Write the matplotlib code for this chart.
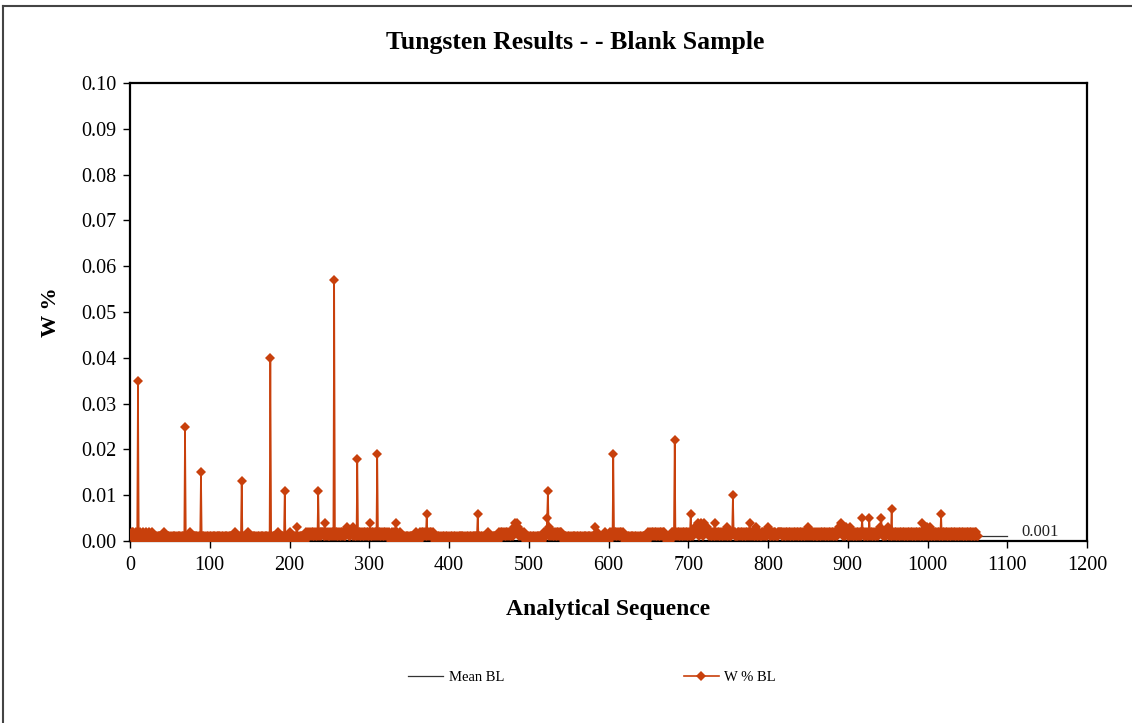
import numpy as np
import matplotlib.pyplot as plt
from matplotlib.lines import Line2D

plt.rcParams['font.family'] = ['Liberation Serif', 'DejaVu Serif']

# Blank sample W % readings, one digit per run in units of 0.001 %
# (rows of 50 runs, blocks of 10)
blank_rows = [
    "1212102111 1021120112 0112102110 1010110101 1021010110",
    "0101101010 1101011011 1010210101 1011010110 1101010101",
    "0101101011 0110101010 1101011010 1211010101 1011010210",
    "1010110101 0101101010 1101011011 0110121010 1101011010",
    "2101010131 1011010110 2121121212 1212121212 2214121211",
    "2121211212 1212121211 2321212213 2121212121 2121212121",
    "4121212121 1212121212 1211210121 2141210121 1101011010",
    "1101010121 1012121212 1612121212 1101010101 0101010101",
    "0101010101 0101110101 0101010101 1101161101 0101101121",
    "1010110101 0121212121 2121212121 2343432121 1212101010",
    "1010101010 1101010121 2152312121 2121212121 2110101010",
    "1010101101 0101010101 1010110101 0131210101 1010121010",
    "1212121212 1212121211 0101010101 1010101010 1010101012",
    "1212121212 1212121212 1101010121 2131212121 2121212121",
    "2161212323 2421242124 2323212121 2141212121 2121212131",
    "2121212121 1212121212 1212124121 2121312121 1212121213",
    "2121212121 1212221212 1212121212 1212121212 1212121213",
    "2121212121 1212121212 1212121212 1212121232 3431212321",
    "2131212121 2121212521 2121215121 2121212123 2521212123",
    "2121712121 2121212121 2121212121 2121212121 2141212131",
    "2131212121 2121216121 2121212121 2121212121 2121212121",
    "2121212121 211",
]

# High readings (run number, W %)
spike_seq = [10, 69, 89, 140, 176, 194, 236, 256, 285, 310, 524, 606, 683, 756]
spike_w = [0.035, 0.025, 0.015, 0.013, 0.040, 0.011, 0.011, 0.057, 0.018,
           0.019, 0.011, 0.019, 0.022, 0.010]

# Mean of the blank results
mean_seq = [1, 1100]
mean_bl = 0.001

digits = "".join(blank_rows).replace(" ", "")
w_bl = np.array([int(c) for c in digits]) * 0.001
seq = np.arange(1, len(w_bl) + 1)
for s, v in zip(spike_seq, spike_w):
    w_bl[s - 1] = v

orange = '#C8400C'

fig = plt.figure(figsize=(11.32, 7.23), dpi=100)
ax = fig.add_axes([130 / 1132, 1 - 541 / 723, 957 / 1132, 458 / 723])

ax.plot(mean_seq, [mean_bl, mean_bl], color='#333333', lw=0.9, label='Mean BL', zorder=2)
ax.plot(seq, w_bl, color=orange, lw=1.2, marker='D', markersize=5.5,
        markeredgewidth=0, label='W % BL', zorder=3)
ax.annotate(f"{mean_bl:.3f}", xy=(mean_seq[-1], mean_bl), xytext=(10, 3),
            textcoords='offset points', va='center', ha='left', fontsize=12,
            color='#222222')

ax.set_xlim(0, 1200)
ax.set_ylim(0, 0.10)
ax.set_xticks(np.arange(0, 1201, 100))
ax.set_yticks(np.arange(0, 0.1001, 0.01))
ax.yaxis.set_major_formatter(plt.FormatStrFormatter('%.2f'))
ax.tick_params(direction='out', length=5, width=1, labelsize=14.5)
ax.tick_params(axis='y', pad=5)
ax.tick_params(axis='x', pad=6)
for sp in ax.spines.values():
    sp.set_linewidth(1.6)
ax.set_xlabel('Analytical Sequence', fontsize=17, fontweight='bold', labelpad=17)
ax.set_ylabel('W %', fontsize=16, fontweight='bold', labelpad=14)

fig.text(575 / 1132, 1 - 43 / 723, 'Tungsten Results - - Blank Sample',
         ha='center', va='center', fontsize=18.5, fontweight='bold')

fig.legend(loc='center', bbox_to_anchor=(592 / 1132, 1 - 677 / 723), ncol=2,
           frameon=False, fontsize=10.5, handlelength=2.4, columnspacing=12.3,
           handletextpad=0.4)

# chart area border
fig.add_artist(Line2D([3 / 1132, 3 / 1132], [0, 1 - 6 / 723], color='#444444', lw=1.5))
fig.add_artist(Line2D([3 / 1132, 1], [1 - 6 / 723, 1 - 6 / 723], color='#444444', lw=1.5))

fig.savefig('out.png', dpi=100)
